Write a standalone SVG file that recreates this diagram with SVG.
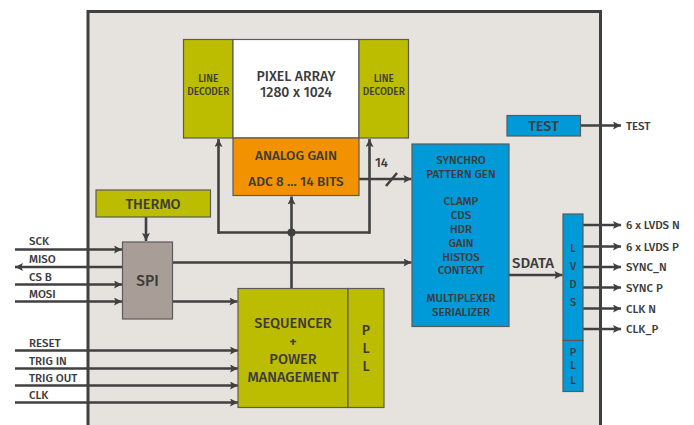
<svg xmlns="http://www.w3.org/2000/svg" width="694" height="425" viewBox="0 0 694 425">
<defs>
<marker id="ah" viewBox="0 0 10 10" refX="10" refY="5" markerWidth="9" markerHeight="8" markerUnits="userSpaceOnUse" orient="auto">
<path d="M0,0 L10,5 L0,10 L2,5 Z" fill="#404040"/>
</marker>
</defs>
<style>
text{font-family:"Fira Sans","Noto Sans","Open Sans","Liberation Sans",sans-serif;font-weight:500;fill:#3c3c3c;text-anchor:middle;dominant-baseline:central}
.b{stroke:#5a5a5a;stroke-width:1.2}
.ol{fill:#bcbd00}
.bl{fill:#009ad8}
.ln{fill:none;stroke:#404040;stroke-width:2.6}
.ar{marker-end:url(#ah)}
.sig{font-size:11.5px;text-anchor:start}
.ld{font-size:10px}
.sy{font-size:11.5px}
.sq{font-size:14.5px}
.lv{font-size:11px}
</style>
<rect x="0" y="0" width="694" height="425" fill="#ffffff"/>
<rect id="chip" x="88" y="11.5" width="512.5" height="425" fill="#e6e3df" stroke="#404040" stroke-width="3"/>

<g id="connectors">
<line class="ln ar" x1="15" y1="249.5" x2="122" y2="249.5"/>
<line class="ln ar" x1="122" y1="267" x2="15" y2="267"/>
<line class="ln ar" x1="15" y1="284.5" x2="122" y2="284.5"/>
<line class="ln ar" x1="15" y1="301.5" x2="122" y2="301.5"/>
<line class="ln ar" x1="15" y1="350.5" x2="238" y2="350.5"/>
<line class="ln ar" x1="15" y1="368.5" x2="238" y2="368.5"/>
<line class="ln ar" x1="15" y1="385.5" x2="238" y2="385.5"/>
<line class="ln ar" x1="15" y1="402.5" x2="238" y2="402.5"/>
<line class="ln ar" x1="146" y1="217" x2="146" y2="241"/>
<line class="ln ar" x1="173" y1="301.5" x2="237.5" y2="301.5"/>
<line class="ln ar" x1="173" y1="262.5" x2="411.5" y2="262.5"/>
<line class="ln ar" x1="291.5" y1="288" x2="291.5" y2="196.5"/>
<polyline class="ln" points="218.5,232.5 369.5,232.5"/>
<line class="ln ar" x1="218.5" y1="233.8" x2="218.5" y2="139"/>
<line class="ln ar" x1="369.5" y1="233.8" x2="369.5" y2="139"/>
<circle cx="291.5" cy="232.5" r="4" fill="#404040"/>
<line class="ln ar" x1="359" y1="179" x2="411.5" y2="179"/>
<line x1="386" y1="186" x2="397" y2="173" stroke="#404040" stroke-width="2.6"/>
<text x="381.5" y="162.5" style="font-size:13px">14</text>
<line class="ln ar" x1="509" y1="275" x2="562.5" y2="275"/>
<text x="533" y="263" style="font-size:15px">SDATA</text>
<line class="ln ar" x1="580.5" y1="125.5" x2="621" y2="125.5"/>
<line class="ln ar" x1="583" y1="225" x2="621" y2="225"/>
<line class="ln ar" x1="583" y1="246.5" x2="621" y2="246.5"/>
<line class="ln ar" x1="583" y1="267" x2="621" y2="267"/>
<line class="ln ar" x1="583" y1="287.5" x2="621" y2="287.5"/>
<line class="ln ar" x1="583" y1="308.5" x2="621" y2="308.5"/>
<line class="ln ar" x1="583" y1="329" x2="621" y2="329"/>
</g>

<g id="labels">
<text class="sig" x="29" y="241">SCK</text>
<text class="sig" x="29" y="259">MISO</text>
<text class="sig" x="29" y="276.5">CS B</text>
<text class="sig" x="29" y="294">MOSI</text>
<text class="sig" x="29" y="343">RESET</text>
<text class="sig" x="29" y="360.5">TRIG IN</text>
<text class="sig" x="29" y="378">TRIG OUT</text>
<text class="sig" x="29" y="395">CLK</text>
<text class="sig" x="626" y="125.5">TEST</text>
<text class="sig" x="626" y="225">6 x LVDS N</text>
<text class="sig" x="626" y="246.5">6 x LVDS P</text>
<text class="sig" x="626" y="267">SYNC_N</text>
<text class="sig" x="626" y="287.5">SYNC P</text>
<text class="sig" x="626" y="308.5">CLK N</text>
<text class="sig" x="626" y="329">CLK_P</text>
</g>

<g id="line-decoder-left">
<rect class="b ol" x="183.5" y="39.5" width="49.5" height="98.5"/>
<text class="ld" x="208.3" y="79">LINE</text>
<text class="ld" x="208.3" y="91.5">DECODER</text>
</g>
<g id="pixel-array">
<rect class="b" x="233" y="39.5" width="126" height="98.5" fill="#ffffff"/>
<text x="296" y="76.5" style="font-size:14px">PIXEL ARRAY</text>
<text x="296" y="92.5" style="font-size:14px">1280 x 1024</text>
</g>
<g id="line-decoder-right">
<rect class="b ol" x="359" y="39.5" width="49.5" height="98.5"/>
<text class="ld" x="383.8" y="79">LINE</text>
<text class="ld" x="383.8" y="91.5">DECODER</text>
</g>
<g id="analog-gain">
<rect class="b" x="233" y="138" width="126" height="57.5" fill="#f39200"/>
<text x="296" y="155" style="font-size:13.5px">ANALOG GAIN</text>
<text x="296" y="181" style="font-size:13.5px">ADC 8 ... 14 BITS</text>
</g>
<g id="thermo">
<rect class="b ol" x="96" y="190" width="114.5" height="27"/>
<text x="153" y="204" style="font-size:14.5px">THERMO</text>
</g>
<g id="spi">
<rect class="b" x="122.5" y="242" width="50" height="77" fill="#a89e97"/>
<text x="147.5" y="281" style="font-size:15.5px">SPI</text>
</g>
<g id="sequencer">
<rect class="b ol" x="238" y="288.5" width="110" height="119"/>
<text class="sq" x="293" y="322.5">SEQUENCER</text>
<text class="sq" x="293" y="341.5">+</text>
<text class="sq" x="293" y="359">POWER</text>
<text class="sq" x="293" y="376.5">MANAGEMENT</text>
</g>
<g id="pll">
<rect class="b ol" x="348" y="288.5" width="36" height="119"/>
<text x="366" y="330" style="font-size:14px">P</text>
<text x="366" y="348.5" style="font-size:14px">L</text>
<text x="366" y="366.5" style="font-size:14px">L</text>
</g>
<g id="synchro">
<rect class="b bl" x="412" y="144" width="97" height="182.5"/>
<text class="sy" x="461" y="160">SYNCHRO</text>
<text class="sy" x="461" y="173.5">PATTERN GEN</text>
<text class="sy" x="461" y="201">CLAMP</text>
<text class="sy" x="461" y="215">CDS</text>
<text class="sy" x="461" y="229">HDR</text>
<text class="sy" x="461" y="242.5">GAIN</text>
<text class="sy" x="461" y="256.5">HISTOS</text>
<text class="sy" x="461" y="270">CONTEXT</text>
<text class="sy" x="461" y="298">MULTIPLEXER</text>
<text class="sy" x="461" y="312">SERIALIZER</text>
</g>
<g id="test">
<rect class="b bl" x="507" y="115.5" width="73.5" height="20.5"/>
<text x="543.5" y="126" style="font-size:14.5px">TEST</text>
</g>
<g id="lvds">
<rect class="b bl" x="563" y="214" width="20" height="126.5"/>
<text class="lv" x="573" y="248">L</text>
<text class="lv" x="573" y="266">V</text>
<text class="lv" x="573" y="284">D</text>
<text class="lv" x="573" y="302">S</text>
</g>
<g id="lvds-pll">
<rect class="b bl" x="563" y="340.5" width="20" height="51"/>
<text class="lv" x="573" y="352">P</text>
<text class="lv" x="573" y="365">L</text>
<text class="lv" x="573" y="380">L</text>
</g>
</svg>
